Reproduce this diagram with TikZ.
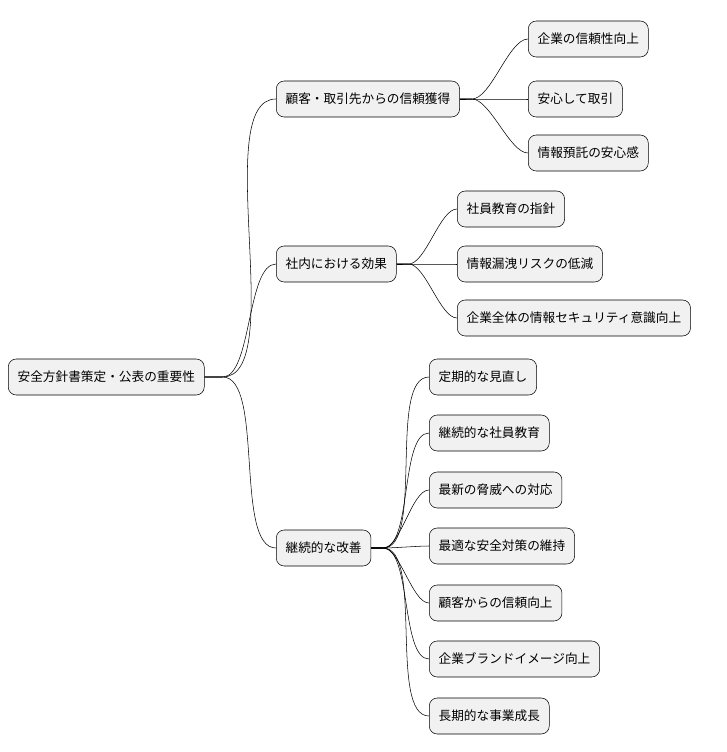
\documentclass[tikz,border=0pt]{standalone}
\usepackage{fontspec}
\newfontfamily\cjk{Noto Sans CJK JP}
\usetikzlibrary{positioning}
\definecolor{box-bg}{RGB}{241, 241, 241}

\begin{document}
\begin{tikzpicture}[
      x=0.75pt, y=-0.75pt,
      box/.style={draw, fill=box-bg, rounded corners=6pt, anchor=west,
        minimum height=27pt, inner xsep=7pt, font=\cjk\fontsize{9.5}{11}\selectfont},
      link/.style={out=0, in=180, looseness=0.6}
    ]
      \useasboundingbox (0,0) rectangle (726,752);
      % root and first level
      \node (root) at (8,377) [box] {安全方針書策定・公表の重要性};
      \node (trust) at (276,99) [box] {顧客・取引先からの信頼獲得};
      \node (inside) at (276,264) [box] {社内における効果};
      \node (improve) at (276,548) [box] {継続的な改善};
      % second level
      \node (t1) at (528,39) [box] {企業の信頼性向上};
      \node (t2) at (528,99) [box] {安心して取引};
      \node (t3) at (528,153) [box] {情報預託の安心感};
      \node (i1) at (457,209) [box] {社員教育の指針};
      \node (i2) at (457,264) [box] {情報漏洩リスクの低減};
      \node (i3) at (457,318) [box] {企業全体の情報セキュリティ意識向上};
      \node (m1) at (429,377) [box] {定期的な見直し};
      \node (m2) at (429,433) [box] {継続的な社員教育};
      \node (m3) at (429,490) [box] {最新の脅威への対応};
      \node (m4) at (429,546) [box] {最適な安全対策の維持};
      \node (m5) at (429,603) [box] {顧客からの信頼向上};
      \node (m6) at (429,659) [box] {企業ブランドイメージ向上};
      \node (m7) at (429,716) [box] {長期的な事業成長};
      \foreach \c in {trust, inside, improve}
        \draw (root.east) -- ++(18,0) to[link] (\c.west);
      \foreach \c in {t1, t2, t3}
        \draw (trust.east) -- ++(12,0) to[link] (\c.west);
      \foreach \c in {i1, i2, i3}
        \draw (inside.east) -- ++(12,0) to[link] (\c.west);
      \foreach \c in {m1, m2, m3, m4, m5, m6, m7}
        \draw (improve.east) -- ++(12,0) to[link] (\c.west);
    \end{tikzpicture}
\end{document}
